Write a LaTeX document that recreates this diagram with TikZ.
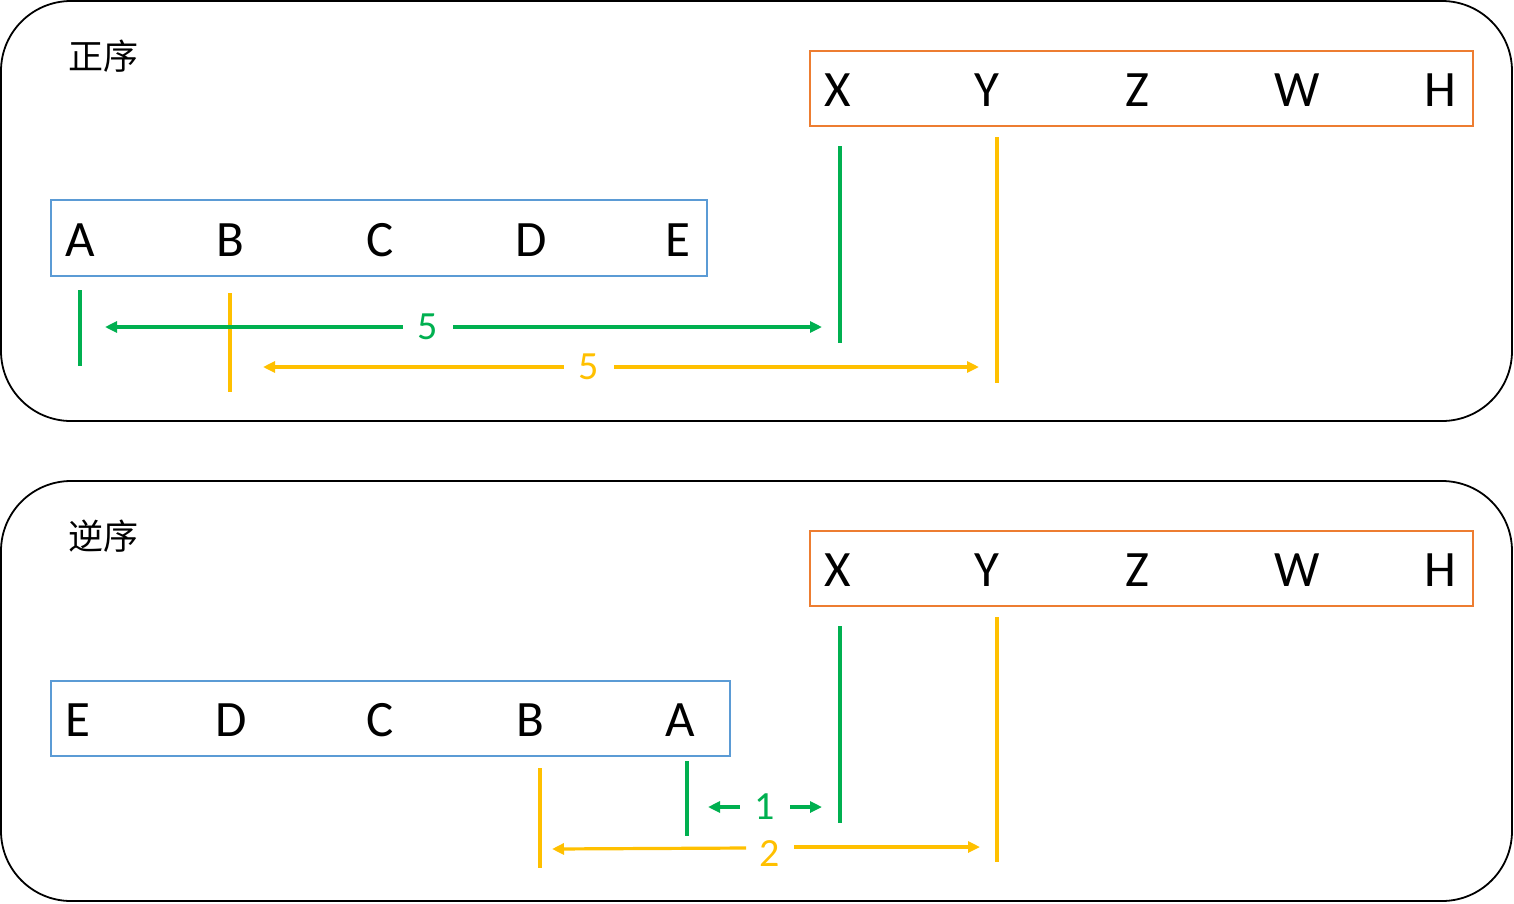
\documentclass[tikz,border=0pt]{standalone}
\usepackage{fontspec}
\setmainfont{Carlito}
\newfontfamily\cjk{Noto Sans CJK SC}
\usetikzlibrary{arrows.meta}
\definecolor{mygreen}{HTML}{00B050}
\definecolor{myyellow}{HTML}{FFC000}
\definecolor{myorange}{HTML}{ED7D31}
\definecolor{myblue}{HTML}{5B9BD5}
\tikzset{
  panel/.style={draw=black,line width=1.8pt,rounded corners=70pt},
  bluebox/.style={draw=myblue,line width=1.8pt},
  orangebox/.style={draw=myorange,line width=1.8pt},
  letter/.style={font=\fontsize{51}{60}\selectfont,inner sep=0pt},
  title/.style={font=\cjk\fontsize{35}{40}\selectfont,inner sep=0pt},
  gmark/.style={draw=mygreen,line width=4.8pt},
  ymark/.style={draw=myyellow,line width=4.8pt},
  glabel/.style={font=\fontsize{40}{48}\selectfont,text=mygreen,inner xsep=15pt,inner ysep=0pt},
  ylabel/.style={font=\fontsize{40}{48}\selectfont,text=myyellow,inner xsep=15pt,inner ysep=0pt},
  garrow/.style={draw=mygreen,line width=3.2pt,-{Triangle[length=12pt,width=11pt]}},
  yarrow/.style={draw=myyellow,line width=3.2pt,-{Triangle[length=12pt,width=11pt]}}
}
\begin{document}
\begin{tikzpicture}[x=1pt,y=-1pt]
\useasboundingbox (0,0) rectangle (1514,903);
%top panel
\draw[panel] (1,1) rectangle (1512,421);
\node[title] (t1) at (103,56) {正序};
\draw[orangebox] (810,51) rectangle (1473,126);
\node[letter] (tX) at (838,90) {X};
\node[letter] (tY) at (987,90) {Y};
\node[letter] (tZ) at (1137,90) {Z};
\node[letter] (tW) at (1297,90) {W};
\node[letter] (tH) at (1440,90) {H};
\draw[bluebox] (51,200) rectangle (707,276);
\node[letter] (tA) at (80,240) {A};
\node[letter] (tB) at (230,240) {B};
\node[letter] (tC) at (380,240) {C};
\node[letter] (tD) at (531,240) {D};
\node[letter] (tE) at (678,240) {E};
%top markers
\draw[gmark] (80,290) -- (80,366);
\draw[gmark] (840,146) -- (840,343);
\draw[ymark] (230,293) -- (230,392);
\draw[ymark] (997,137) -- (997,383);
%top distances
\coordinate (tgL) at (105,327);
\coordinate (tgR) at (822,327);
\node[glabel] (tg5) at (428,327) {5};
\draw[garrow] (tg5) -- (tgL);
\draw[garrow] (tg5) -- (tgR);
\coordinate (tyL) at (263,367);
\coordinate (tyR) at (979,367);
\node[ylabel] (ty5) at (589,367) {5};
\draw[yarrow] (ty5) -- (tyL);
\draw[yarrow] (ty5) -- (tyR);

%bottom panel
\draw[panel] (1,481) rectangle (1512,901);
\node[title] (t2) at (103,536) {逆序};
\draw[orangebox] (810,531) rectangle (1473,606);
\node[letter] (bX) at (838,570) {X};
\node[letter] (bY) at (987,570) {Y};
\node[letter] (bZ) at (1137,570) {Z};
\node[letter] (bW) at (1297,570) {W};
\node[letter] (bH) at (1440,570) {H};
\draw[bluebox] (51,681) rectangle (730,756);
\node[letter] (bE) at (78,720) {E};
\node[letter] (bD) at (231,720) {D};
\node[letter] (bC) at (380,720) {C};
\node[letter] (bB) at (530,720) {B};
\node[letter] (bA) at (680,720) {A};
%bottom markers
\draw[gmark] (687,761) -- (687,836);
\draw[gmark] (840,626) -- (840,823);
\draw[ymark] (540,768) -- (540,868);
\draw[ymark] (997,617) -- (997,862);
%bottom distances
\coordinate (bgL) at (708,807);
\coordinate (bgR) at (822,807);
\node[glabel] (bg1) at (765,807) {1};
\draw[garrow] (bg1) -- (bgL);
\draw[garrow] (bg1) -- (bgR);
\node[ylabel] (by2) at (770,854) {2};
\coordinate (byl) at (746,848);
\coordinate (byr) at (794,847);
\coordinate (byL) at (552,849);
\coordinate (byR) at (980,847);
\draw[yarrow] (byl) -- (byL);
\draw[yarrow] (byr) -- (byR);
\end{tikzpicture}
\end{document}
